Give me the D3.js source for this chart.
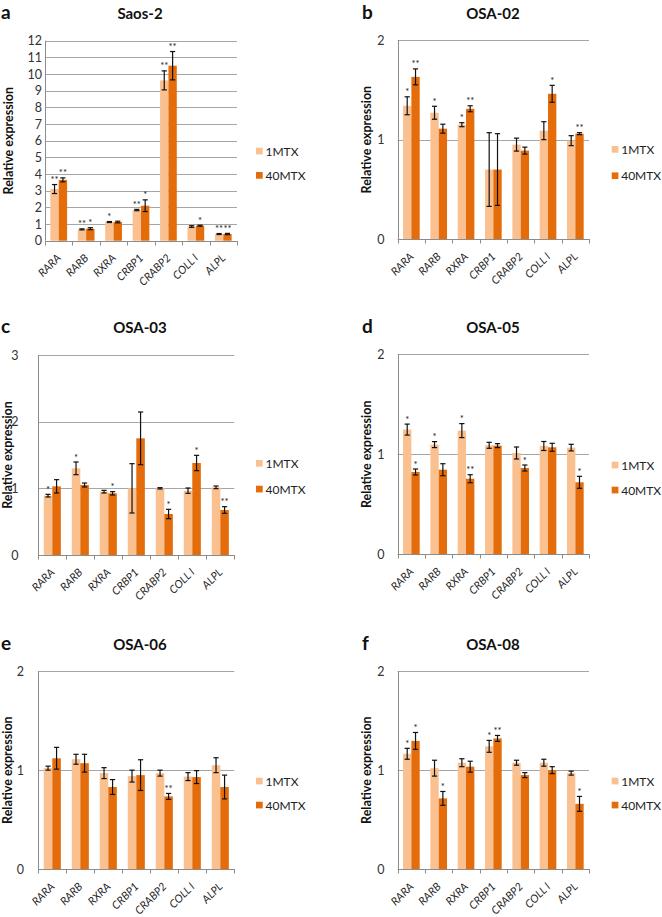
<!DOCTYPE html>
<html lang="en">
  <head>
    <meta charset="utf-8" />
    <script src="https://cdn.jsdelivr.net/npm/d3@7/dist/d3.min.js"></script>
    <title>Relative expression</title>
    <style>
      body { margin: 0; background: #fff; }
      svg { font-family: Lato, "Open Sans", sans-serif; }
      .grid { stroke: #a6a6a6; stroke-width: 1; }
      .axis-line { stroke: #8c8c8c; stroke-width: 1; }
      .err { stroke: #111; stroke-width: 1.2; fill: none; }
    </style>
  </head>
  <body>
    <div id="container"></div>

    <script>
      const genes = ["RARA", "RARB", "RXRA", "CRBP1", "CRABP2", "COLL I", "ALPL"];
      const groups = ["1MTX", "40MTX"];

      // a - Saos-2
      const saos2_1 = [3.1, 0.68, 1.12, 1.84, 9.62, 0.85, 0.4];
      const saos2_1_err = [0.27, 0.03, 0.03, 0.04, 0.57, 0.05, 0.03];
      const saos2_1_sig = ["**", "**", "*", "**", "**", "", "**"];
      const saos2_40 = [3.65, 0.72, 1.12, 2.1, 10.5, 0.9, 0.4];
      const saos2_40_err = [0.12, 0.06, 0.05, 0.35, 0.85, 0.03, 0.04];
      const saos2_40_sig = ["**", "*", "", "*", "**", "*", "**"];

      // b - OSA-02
      const osa02_1 = [1.34, 1.27, 1.15, 0.7, 0.95, 1.09, 0.99];
      const osa02_1_err = [0.09, 0.065, 0.02, 0.37, 0.065, 0.09, 0.05];
      const osa02_1_sig = ["*", "*", "*", "", "", "", ""];
      const osa02_40 = [1.63, 1.11, 1.31, 0.7, 0.89, 1.46, 1.06];
      const osa02_40_err = [0.08, 0.045, 0.03, 0.36, 0.035, 0.085, 0.01];
      const osa02_40_sig = ["**", "", "**", "", "", "*", "**"];

      // c - OSA-03
      const osa03_1 = [0.89, 1.3, 0.95, 1.0, 1.0, 0.965, 1.015];
      const osa03_1_err = [0.02, 0.095, 0.02, 0.37, 0.01, 0.04, 0.02];
      const osa03_1_sig = ["*", "*", "", "", "", "", ""];
      const osa03_40 = [1.03, 1.05, 0.925, 1.75, 0.615, 1.38, 0.675];
      const osa03_40_err = [0.1, 0.03, 0.025, 0.395, 0.07, 0.115, 0.05];
      const osa03_40_sig = ["", "", "*", "", "*", "*", "**"];

      // d - OSA-05
      const osa05_1 = [1.247, 1.097, 1.237, 1.09, 1.013, 1.083, 1.067];
      const osa05_1_err = [0.055, 0.03, 0.07, 0.03, 0.06, 0.045, 0.033];
      const osa05_1_sig = ["*", "*", "*", "", "", "", ""];
      const osa05_40 = [0.823, 0.846, 0.756, 1.087, 0.863, 1.07, 0.72];
      const osa05_40_err = [0.03, 0.06, 0.04, 0.02, 0.03, 0.04, 0.06];
      const osa05_40_sig = ["*", "", "**", "", "*", "", "*"];

      // e - OSA-06
      const osa06_1 = [1.02, 1.11, 0.97, 0.94, 0.97, 0.935, 1.05];
      const osa06_1_err = [0.02, 0.05, 0.055, 0.06, 0.03, 0.04, 0.075];
      const osa06_1_sig = ["", "", "", "", "", "", ""];
      const osa06_40 = [1.12, 1.07, 0.83, 0.95, 0.735, 0.93, 0.83];
      const osa06_40_err = [0.11, 0.09, 0.075, 0.155, 0.03, 0.065, 0.12];
      const osa06_40_sig = ["", "", "", "", "**", "", ""];

      // f - OSA-08
      const osa08_1 = [1.165, 1.02, 1.075, 1.24, 1.075, 1.075, 0.97];
      const osa08_1_err = [0.055, 0.08, 0.04, 0.06, 0.025, 0.035, 0.02];
      const osa08_1_sig = ["*", "", "", "*", "", "", ""];
      const osa08_40 = [1.295, 0.715, 1.035, 1.32, 0.95, 1.0, 0.66];
      const osa08_40_err = [0.085, 0.07, 0.055, 0.03, 0.025, 0.035, 0.075];
      const osa08_40_sig = ["*", "*", "", "**", "", "", "*"];

      const yTicksA = [0, 1, 2, 3, 4, 5, 6, 7, 8, 9, 10, 11, 12];
      const yTicks2 = [0, 1, 2];
      const yTicks3 = [0, 1, 2, 3];

      const colors = { "1MTX": "#fac090", "40MTX": "#e46c0a" };

      // layout of each panel (pixel positions)
      const panels = [
        { letter: "a", title: "Saos-2", d1: saos2_1, e1: saos2_1_err, s1: saos2_1_sig, d40: saos2_40, e40: saos2_40_err, s40: saos2_40_sig,
          ticks: yTicksA, left: 45, right: 237, top: 40.7, bottom: 240.7, labX: 42, titleX: 140, titleY: 19, letterX: 1, yTitleX: 8, legX: 256, legY: [151, 175.3] },
        { letter: "b", title: "OSA-02", d1: osa02_1, e1: osa02_1_err, s1: osa02_1_sig, d40: osa02_40, e40: osa02_40_err, s40: osa02_40_sig,
          ticks: yTicks2, left: 397.7, right: 589, top: 40, bottom: 239.3, labX: 384.5, titleX: 493, titleY: 19, letterX: 362, yTitleX: 366.7, legX: 611.7, legY: [149.3, 175.7] },
        { letter: "c", title: "OSA-03", d1: osa03_1, e1: osa03_1_err, s1: osa03_1_sig, d40: osa03_40, e40: osa03_40_err, s40: osa03_40_sig,
          ticks: yTicks3, left: 38.3, right: 234.3, top: 355, bottom: 555, labX: 18.5, titleX: 140, titleY: 333, letterX: 1, yTitleX: 7, legX: 256, legY: [463.3, 489] },
        { letter: "d", title: "OSA-05", d1: osa05_1, e1: osa05_1_err, s1: osa05_1_sig, d40: osa05_40, e40: osa05_40_err, s40: osa05_40_sig,
          ticks: yTicks2, left: 397.7, right: 589, top: 354.3, bottom: 554.3, labX: 384.5, titleX: 493, titleY: 333, letterX: 362, yTitleX: 366.7, legX: 611.7, legY: [465, 490] },
        { letter: "e", title: "OSA-06", d1: osa06_1, e1: osa06_1_err, s1: osa06_1_sig, d40: osa06_40, e40: osa06_40_err, s40: osa06_40_sig,
          ticks: yTicks2, left: 38.3, right: 234.3, top: 671, bottom: 869.3, labX: 24, titleX: 140, titleY: 649.5, letterX: 1, yTitleX: 7, legX: 256, legY: [781, 805] },
        { letter: "f", title: "OSA-08", d1: osa08_1, e1: osa08_1_err, s1: osa08_1_sig, d40: osa08_40, e40: osa08_40_err, s40: osa08_40_sig,
          ticks: yTicks2, left: 397.7, right: 589, top: 671, bottom: 869.3, labX: 384.5, titleX: 493, titleY: 649.5, letterX: 362, yTitleX: 366.7, legX: 611.7, legY: [781, 805] }
      ];

      const svg = d3.select("#container").append("svg").attr("width", 662).attr("height", 917);
      svg.append("rect").attr("width", 662).attr("height", 917).attr("fill", "#fff");

      panels.forEach((p) => {
        const g = svg.append("g");
        const x = d3.scaleBand().domain(genes).range([p.left, p.right]);
        const xs = d3.scaleBand().domain(groups).range([0, x.bandwidth()]).paddingOuter(0.64);
        const y = d3.scaleLinear().domain([0, d3.max(p.ticks)]).range([p.bottom, p.top]);

        // gridlines
        g.selectAll("line.grid").data(p.ticks.filter((t) => t > 0)).join("line")
          .attr("class", "grid")
          .attr("x1", p.left).attr("x2", p.right)
          .attr("y1", (d) => Math.round(y(d)) + 0.5).attr("y2", (d) => Math.round(y(d)) + 0.5);

        // y tick labels
        const yAxis = d3.axisLeft(y).tickValues(p.ticks).tickFormat(d3.format("d")).tickSize(0).tickPadding(p.left - p.labX);
        const ya = g.append("g").attr("transform", `translate(${p.left},0)`).call(yAxis);
        ya.select(".domain").remove();
        ya.selectAll("text").attr("font-size", 12.5).attr("fill", "#333").attr("font-family", "Lato, sans-serif");

        // bars
        const rows = genes.map((gene, i) => [
          { gene, grp: "1MTX", v: p.d1[i], e: p.e1[i], s: p.s1[i] },
          { gene, grp: "40MTX", v: p.d40[i], e: p.e40[i], s: p.s40[i] }
        ]).flat();

        g.selectAll("rect.bar").data(rows).join("rect")
          .attr("class", "bar")
          .attr("x", (d) => x(d.gene) + xs(d.grp))
          .attr("width", xs.bandwidth())
          .attr("y", (d) => y(d.v))
          .attr("height", (d) => y(0) - y(d.v))
          .attr("fill", (d) => colors[d.grp]);

        // axes lines
        g.append("line").attr("class", "axis-line")
          .attr("x1", Math.round(p.left) + 0.5).attr("x2", Math.round(p.left) + 0.5)
          .attr("y1", p.top).attr("y2", p.bottom);
        g.append("line").attr("class", "axis-line")
          .attr("x1", p.left).attr("x2", p.right)
          .attr("y1", Math.round(p.bottom) + 0.5).attr("y2", Math.round(p.bottom) + 0.5);
        const bounds = genes.map((gn) => x(gn)).concat([p.right]);
        g.selectAll("line.xtick").data(bounds).join("line")
          .attr("class", "axis-line")
          .attr("x1", (d) => Math.round(d) + 0.5).attr("x2", (d) => Math.round(d) + 0.5)
          .attr("y1", Math.round(p.bottom)).attr("y2", Math.round(p.bottom) + 4.5);

        // error bars
        const cx = (d) => x(d.gene) + xs(d.grp) + xs.bandwidth() / 2;
        const cap = 2.6;
        const eb = g.selectAll("g.err").data(rows).join("g").attr("class", "err");
        eb.append("line").attr("x1", cx).attr("x2", cx).attr("y1", (d) => y(d.v + d.e)).attr("y2", (d) => y(d.v - d.e));
        eb.append("line").attr("x1", (d) => cx(d) - cap).attr("x2", (d) => cx(d) + cap).attr("y1", (d) => y(d.v + d.e)).attr("y2", (d) => y(d.v + d.e));
        eb.append("line").attr("x1", (d) => cx(d) - cap).attr("x2", (d) => cx(d) + cap).attr("y1", (d) => y(d.v - d.e)).attr("y2", (d) => y(d.v - d.e));

        // significance stars
        g.selectAll("text.sig").data(rows.filter((d) => d.s)).join("text")
          .attr("x", cx)
          .attr("y", (d) => y(d.v + d.e) - 1.5)
          .attr("text-anchor", "middle")
          .attr("font-size", 9.5)
          .attr("fill", "#222")
          .text((d) => d.s);

        // x labels
        g.selectAll("text.xlab").data(genes).join("text")
          .attr("transform", (d) => `translate(${x(d) + x.bandwidth() / 2 + 3},${p.bottom + 18}) rotate(-45)`)
          .attr("text-anchor", "end")
          .attr("font-size", 11)
          .attr("font-style", "italic")
          .attr("fill", "#222")
          .text((d) => d);

        // y title
        g.append("text")
          .attr("transform", `translate(${p.yTitleX},${(p.top + p.bottom) / 2}) rotate(-90)`)
          .attr("text-anchor", "middle")
          .attr("dominant-baseline", "central")
          .attr("font-size", 12.5)
          .attr("font-weight", "bold")
          .attr("fill", "#111")
          .text("Relative expression");

        // title and panel letter
        g.append("text").attr("x", p.titleX).attr("y", p.titleY)
          .attr("text-anchor", "middle").attr("font-size", 15).attr("font-weight", "bold").attr("fill", "#111")
          .text(p.title);
        g.append("text").attr("x", p.letterX).attr("y", p.titleY)
          .attr("font-size", 19).attr("font-weight", "bold").attr("fill", "#111")
          .text(p.letter);

        // legend
        groups.forEach((grp, i) => {
          g.append("rect").attr("x", p.legX).attr("y", p.legY[i] - 3.3).attr("width", 6.7).attr("height", 6.7).attr("fill", colors[grp]);
          g.append("text").attr("x", p.legX + 9.5).attr("y", p.legY[i])
            .attr("dominant-baseline", "central").attr("font-size", 12).attr("fill", "#222")
            .text(grp);
        });
      });
    </script>
  </body>
</html>
